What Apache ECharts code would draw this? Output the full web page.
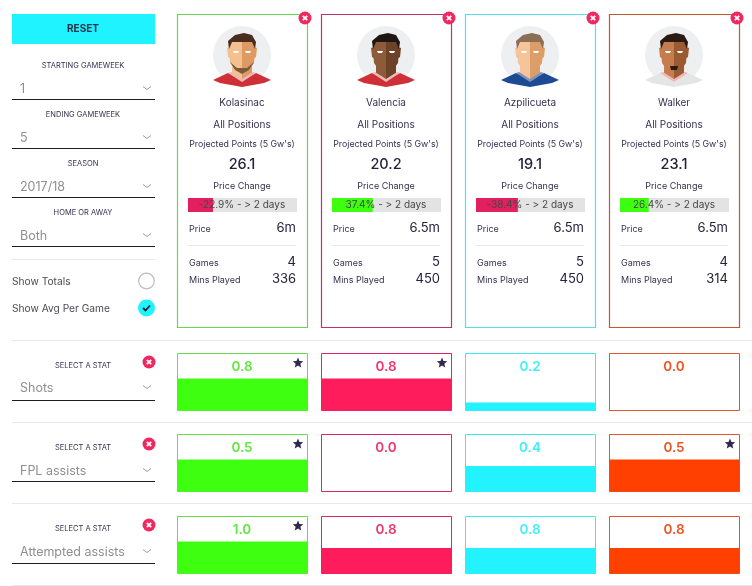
<!DOCTYPE html>
<html>
<head>
<meta charset="utf-8">
<style>
html,body{margin:0;padding:0;background:#fff;}
#main{width:752px;height:586px;}
</style>
<script src="https://cdn.jsdelivr.net/npm/echarts@6/dist/echarts.min.js"></script>
</head>
<body>
<div id="main"></div>
<script>
// player cards
var players = ['Kolasinac', 'Valencia', 'Azpilicueta', 'Walker'];
var positions = ['All Positions', 'All Positions', 'All Positions', 'All Positions'];
var projected = [26.1, 20.2, 19.1, 23.1];
var priceChange = [-22.9, 37.4, -38.4, 26.4];
var price = ['6m', '6.5m', '6.5m', '6.5m'];
var games = [4, 5, 5, 4];
var mins = [336, 450, 450, 314];

// stat rows
var statNames = ['Shots', 'FPL assists', 'Attempted assists'];
var shots = [0.8, 0.8, 0.2, 0.0];
var fplAssists = [0.5, 0.0, 0.4, 0.5];
var attemptedAssists = [1.0, 0.8, 0.8, 0.8];

// left filters
var filterLabels = ['STARTING GAMEWEEK', 'ENDING GAMEWEEK', 'SEASON', 'HOME OR AWAY'];
var filterValues = ['1', '5', '2017/18', 'Both'];

// colours
var cardColors = ['#66d94e', '#c4306f', '#55dfe6', '#c9552b'];
var statBorders = ['#63e04a', '#e0246a', '#3fe9f2', '#e2562a'];
var statText = ['#5fe83f', '#f0346c', '#3ff0f8', '#f0531f'];
var statFills = ['#3dff0f', '#ff1c5c', '#22f3ff', '#ff4000'];
var kitColors = ['#cf3038', '#cf3038', '#1c4b94', '#e4e6e6'];
var skinLight = ['#f4c08f', '#8d5a3a', '#f5c49a', '#c67d4e'];
var skinDark = ['#dd9a63', '#6e4229', '#dd9d68', '#9c5a32'];
var hairColors = ['#4a2d1e', '#1f1613', '#8b6e55', '#2a1a14'];

var INK = '#37304f';
var FONT = 'Inter';
var cardX = [177, 321, 465, 609];
var cardW = 130;
var statY = [353, 434, 516];
var statH = 57;
var barMaxH = 32;

var chart = echarts.init(document.getElementById('main'), null, {renderer: 'canvas'});
var g = [];

function txt(x, y, s, size, color, align, weight) {
    g.push({
        type: 'text', silent: true, z: 100,
        style: {
            x: x, y: y + 0.8, text: String(s), fontSize: size, fontFamily: FONT,
            fontWeight: weight || 'normal', fill: color || INK,
            align: align || 'center', verticalAlign: 'middle'
        }
    });
}
function line(x1, y1, x2, y2, color, w) {
    g.push({
        type: 'line', silent: true, z: 50,
        shape: {x1: x1, y1: y1, x2: x2, y2: y2},
        style: {stroke: color, lineWidth: w || 1}
    });
}
function poly(points, color, z) {
    g.push({type: 'polygon', silent: true, z: z || 60, shape: {points: points}, style: {fill: color}});
}
function chevron(x, y) {
    g.push({
        type: 'polyline', silent: true, z: 60,
        shape: {points: [[x - 4, y - 1.5], [x, y + 1.5], [x + 4, y - 1.5]]},
        style: {stroke: '#9a9a9a', lineWidth: 1, fill: null}
    });
}
function removeIcon(x, y, r) {
    g.push({type: 'circle', silent: true, z: 70, shape: {cx: x, cy: y, r: r}, style: {fill: '#f0285f'}});
    g.push({type: 'line', silent: true, z: 71, shape: {x1: x - 2.2, y1: y - 2.2, x2: x + 2.2, y2: y + 2.2}, style: {stroke: '#fff', lineWidth: 1.8}});
    g.push({type: 'line', silent: true, z: 71, shape: {x1: x + 2.2, y1: y - 2.2, x2: x - 2.2, y2: y + 2.2}, style: {stroke: '#fff', lineWidth: 1.8}});
}
function dropdown(labelY, valueY, lineY, label, value) {
    txt(83, labelY, label, 7.5, INK);
    txt(20, valueY, value, 12.5, '#8f8f8f', 'left');
    chevron(147, valueY);
    line(12, lineY + 0.5, 155, lineY + 0.5, '#1d1b2e', 1);
}
function star(cx, cy, R) {
    var pts = [];
    for (var k = 0; k < 10; k++) {
        var r = k % 2 ? R * 0.45 : R;
        var a = -Math.PI / 2 + k * Math.PI / 5;
        pts.push([cx + r * Math.cos(a), cy + r * Math.sin(a)]);
    }
    poly(pts, '#31264f', 80);
}
// flat face, drawn relative to the circle centre
function avatar(i, cx, cy) {
    function P(list) { return list.map(function (p) { return [cx + p[0], cy + p[1]]; }); }
    g.push({type: 'circle', silent: true, z: 55, shape: {cx: cx, cy: cy, r: 29}, style: {fill: '#eeeff0'}});
    // neck
    poly(P([[-10, 8], [0, 8], [0, 28], [-10, 21]]), skinLight[i], 58);
    poly(P([[0, 8], [10, 8], [10, 21], [0, 28]]), skinDark[i], 58);
    // kit
    poly(P([[-29, 25], [-14, 18], [0, 25], [0, 32], [-22, 28]]), kitColors[i], 59);
    poly(P([[29, 25], [14, 18], [0, 25], [0, 32], [22, 28]]), kitColors[i], 59);
    poly(P([[-14, 18], [-11, 17], [0, 24], [0, 27]]), i === 2 ? '#7f93b8' : '#f0b9b6', 60);
    poly(P([[14, 18], [11, 17], [0, 24], [0, 27]]), i === 2 ? '#7f93b8' : '#f0b9b6', 60);
    // ears + face
    poly(P([[-15, -7], [-12, -8], [-11, 4], [-14, 2]]), skinLight[i], 60);
    poly(P([[15, -7], [12, -8], [11, 4], [14, 2]]), skinDark[i], 60);
    poly(P([[0, -18], [-12, -16], [-13, -4], [-12, 8], [-7, 15], [0, 19]]), skinLight[i], 61);
    poly(P([[0, -18], [12, -16], [13, -4], [12, 8], [7, 15], [0, 19]]), skinDark[i], 61);
    // hair
    poly(P([[-13, -6], [-14, -14], [-7, -20], [2, -22], [10, -20], [14, -13], [13, -6], [10, -13], [-10, -13]]), hairColors[i], 62);
    // eyes
    poly(P([[-9, -4], [-3, -4], [-4, -2], [-8, -2]]), '#fff', 63);
    poly(P([[9, -4], [3, -4], [4, -2], [8, -2]]), '#fff', 63);
    // beard / goatee
    if (i === 0) {
        poly(P([[-12, 7], [-5, 13], [5, 13], [12, 7], [7, 15], [0, 19], [-7, 15]]), '#7d5a3c', 63);
    }
    if (i === 3) {
        poly(P([[-4, 11], [4, 11], [3, 15], [-3, 15]]), '#2a1a14', 63);
    }
}

// left panel
g.push({type: 'rect', silent: true, z: 40, shape: {x: 12, y: 14, width: 143, height: 30}, style: {fill: '#1ff3ff'}});
txt(83, 28, 'RESET', 10, '#23324a', 'center', 'bold');
var labelYs = [65, 114, 163, 212];
var valueYs = [88, 137, 186, 235];
var lineYs = [99, 148, 197, 246];
filterLabels.forEach(function (l, i) { dropdown(labelYs[i], valueYs[i], lineYs[i], l, filterValues[i]); });
line(12, 259.5, 155, 259.5, '#e8e8e8', 1);
txt(12, 281, 'Show Totals', 10.2, '#4b4b55', 'left');
txt(12, 308, 'Show Avg Per Game', 10.2, '#4b4b55', 'left');
g.push({type: 'circle', silent: true, z: 60, shape: {cx: 146.5, cy: 281, r: 7.8}, style: {fill: '#fff', stroke: '#bdbdbd', lineWidth: 1.2}});
g.push({type: 'circle', silent: true, z: 60, shape: {cx: 146.5, cy: 308, r: 8.5}, style: {fill: '#1ff3ff'}});
g.push({type: 'polyline', silent: true, z: 61, shape: {points: [[143, 308], [145.5, 310.5], [150, 305.5]]}, style: {stroke: '#1d1b2e', lineWidth: 1.8, fill: null}});

// stat row separators and dropdowns
[340, 422, 503, 585].forEach(function (y) { line(12, y + 0.5, 752, y + 0.5, '#e8e8e8', 1); });
var statLabelYs = [365, 447, 528];
var statValueYs = [387, 470, 551];
var statLineYs = [400, 481, 563];
var statIconYs = [362, 444, 525];
statNames.forEach(function (n, i) {
    dropdown(statLabelYs[i], statValueYs[i], statLineYs[i], 'SELECT A STAT', n);
    removeIcon(149, statIconYs[i], 6.5);
});

// cards
var grids = [], xAxes = [], yAxes = [], series = [];
function addBar(grid, xa, ya, seriesOpt) {
    var idx = grids.length;
    grids.push(grid);
    xa.gridIndex = idx; ya.gridIndex = idx;
    xAxes.push(xa); yAxes.push(ya);
    seriesOpt.xAxisIndex = idx; seriesOpt.yAxisIndex = idx;
    seriesOpt.type = 'bar';
    seriesOpt.silent = true;
    series.push(seriesOpt);
}

players.forEach(function (name, i) {
    var x = cardX[i], mid = x + cardW / 2;
    g.push({type: 'rect', silent: true, z: 30, shape: {x: x + 0.5, y: 14.5, width: cardW, height: 313}, style: {fill: 'none', stroke: cardColors[i], lineWidth: 1.2}});
    removeIcon(x + 128, 18, 6.5);
    avatar(i, mid, 55);
    txt(mid, 102, name, 10, INK);
    txt(mid, 124.5, positions[i], 10, INK);
    txt(mid, 143.5, "Projected Points (5 Gw's)", 8.8, INK);
    txt(mid, 163.5, projected[i].toFixed(1), 14.5, '#25233c', 'center', 500);
    txt(mid, 185.5, 'Price Change', 9, INK);
    txt(mid, 204, priceChange[i].toFixed(1) + '% - > 2 days', 10, '#474747');

    addBar(
        {left: x + 11, top: 198, width: 109, height: 14, show: false},
        {type: 'value', min: 0, max: 100, show: false},
        {type: 'category', data: ['change'], show: false},
        {
            data: [Math.abs(priceChange[i])], barWidth: '100%', z: 5,
            showBackground: true, backgroundStyle: {color: '#e3e3e3'},
            itemStyle: {color: priceChange[i] < 0 ? '#e21f5f' : '#3dff0f'}
        }
    );

    txt(x + 12, 228.5, 'Price', 9, INK, 'left');
    txt(x + 119, 227.5, price[i], 13, '#25233c', 'right');
    line(x + 11, 245.5, x + 119, 245.5, '#e8e8e8', 1);
    txt(x + 12, 262.5, 'Games', 9, INK, 'left');
    txt(x + 119, 261.5, games[i], 13, '#25233c', 'right');
    txt(x + 12, 279.5, 'Mins Played', 9, INK, 'left');
    txt(x + 119, 278.5, mins[i], 13, '#25233c', 'right');
});

// stat bars, tallest in a row fills barMaxH of the box
[shots, fplAssists, attemptedAssists].forEach(function (vals, r) {
    var rowMax = Math.max.apply(null, vals);
    vals.forEach(function (v, i) {
        var x = cardX[i];
        addBar(
            {left: x + 0.5, top: statY[r] + 0.5, width: cardW, height: statH, show: true, borderWidth: 1, borderColor: statBorders[i], backgroundColor: '#fff'},
            {type: 'category', data: [players[i]], show: false},
            {type: 'value', min: 0, max: rowMax * statH / barMaxH, show: false},
            {data: [v], barWidth: '100%', itemStyle: {color: statFills[i]}}
        );
        txt(x + cardW / 2, statY[r] + 13, v.toFixed(1), 13.5, statText[i], 'center', 600);
        if (v === rowMax) star(x + 121, statY[r] + 10, 5.5);
    });
});

var option = {
    backgroundColor: '#fff',
    animation: false,
    tooltip: {show: false},
    grid: grids,
    xAxis: xAxes,
    yAxis: yAxes,
    series: series,
    graphic: {elements: g}
};
chart.setOption(option);
</script>
</body>
</html>
